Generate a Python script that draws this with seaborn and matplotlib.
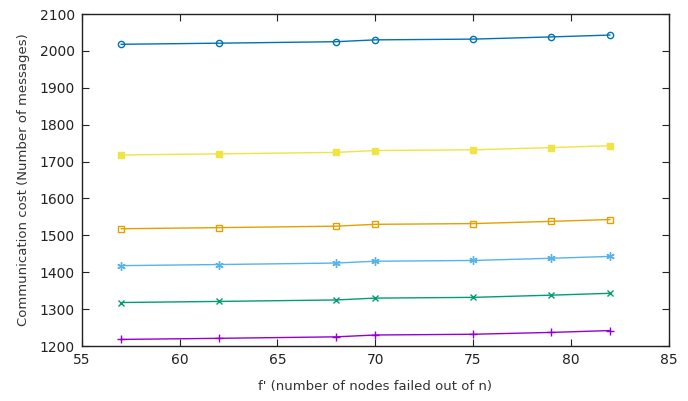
import matplotlib
matplotlib.use("Agg")
import matplotlib.pyplot as plt
import seaborn as sns
import pandas as pd

x_vals = [57, 62, 68, 70, 75, 79, 82]
s_purple = [1218, 1221, 1225, 1230, 1232, 1237, 1242]
s_green = [1318, 1321, 1325, 1330, 1332, 1338, 1343]
s_cyan = [1418, 1421, 1425, 1430, 1432, 1438, 1443]
s_orange = [1518, 1521, 1525, 1530, 1532, 1538, 1543]
s_yellow = [1718, 1721, 1725, 1730, 1732, 1738, 1743]
s_blue = [2018, 2021, 2025, 2030, 2032, 2038, 2043]

series = {
    "purple": s_purple, "green": s_green, "cyan": s_cyan,
    "orange": s_orange, "yellow": s_yellow, "blue": s_blue,
}
styles = {
    "purple": dict(color="#9400d3", marker="+", ms=6, mfc="none"),
    "green": dict(color="#009e73", marker="x", ms=5, mfc="none"),
    "cyan": dict(color="#56b4e9", marker=(6, 2, 0), ms=6, mfc="none"),
    "orange": dict(color="#e69f00", marker="s", ms=4.5, mfc="none"),
    "yellow": dict(color="#f0e442", marker="s", ms=4.5, mfc="#f0e442"),
    "blue": dict(color="#0072b2", marker="o", ms=4.5, mfc="none"),
}

sns.set_style("ticks")
plt.rcParams['font.family'] = ['DejaVu Sans']

fig = plt.figure(figsize=(6.88, 4.01), dpi=100)
ax = fig.add_axes([0.119, 0.137, 0.853, 0.828])

rows = []
for name, vals in series.items():
    for xv, yv in zip(x_vals, vals):
        rows.append({"x": xv, "y": yv, "s": name})
df = pd.DataFrame(rows)

for name in series:
    st = styles[name]
    sub = df[df.s == name]
    sns.lineplot(data=sub, x="x", y="y", ax=ax, color=st["color"], lw=1.0,
                 marker=st["marker"], markersize=st["ms"],
                 markerfacecolor=st["mfc"], markeredgecolor=st["color"],
                 markeredgewidth=1.0, legend=False)

ax.set_xlim(55, 85)
ax.set_ylim(1200, 2100)
ax.set_xticks([55, 60, 65, 70, 75, 80, 85])
ax.set_yticks(range(1200, 2101, 100))
ax.tick_params(direction="in", length=5, top=True, right=True, labelsize=10, colors="#222222", pad=5)
for sp in ax.spines.values():
    sp.set_visible(True)
    sp.set_linewidth(1.0)
    sp.set_color("#222222")
ax.set_xlabel("f' (number of nodes failed out of n)", fontsize=9.5, color="#333333", labelpad=9)
ax.set_ylabel("Communication cost (Number of messages)", fontsize=9.5, color="#333333", labelpad=7)

fig.savefig("out.png", dpi=100)
